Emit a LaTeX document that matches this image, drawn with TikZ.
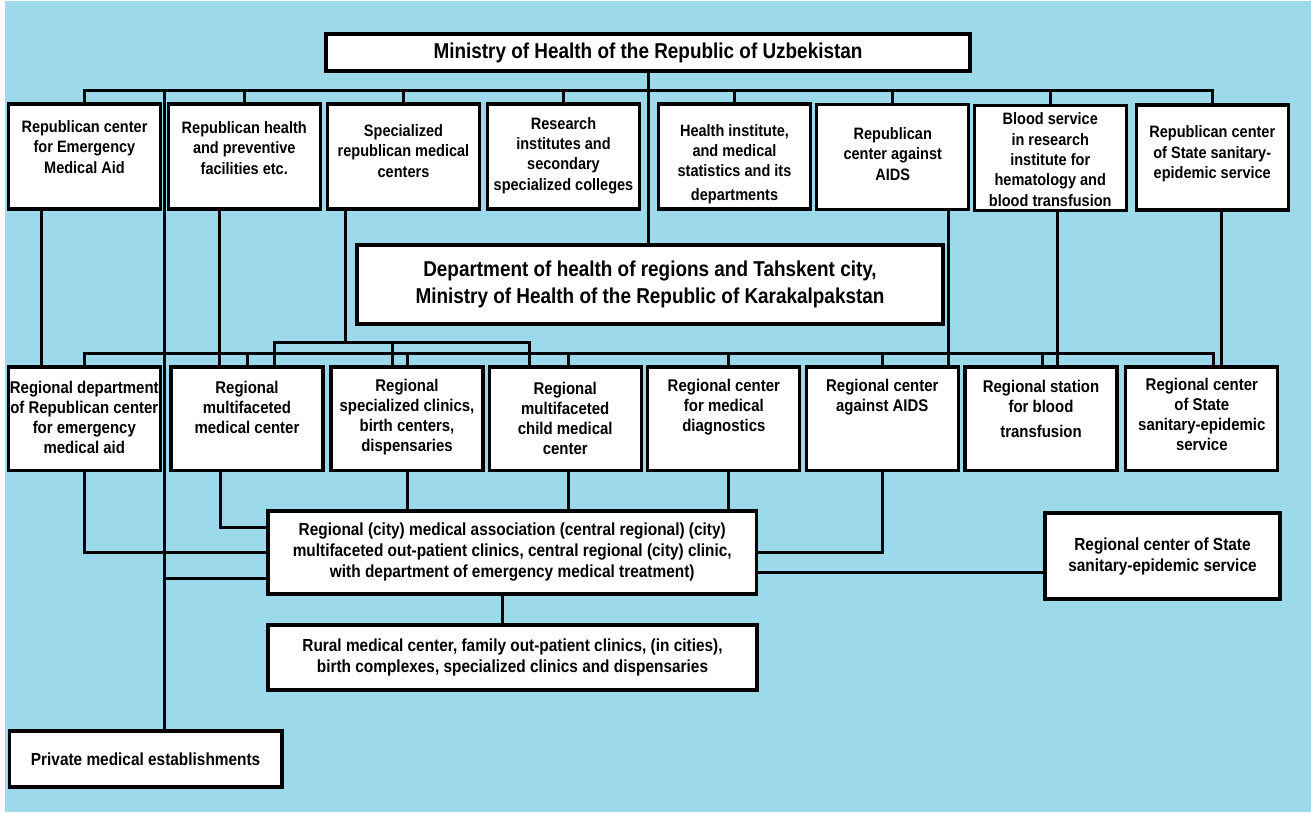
\documentclass[tikz,border=0pt]{standalone}
\usepackage{fontspec}
\setmainfont{Liberation Sans}[FakeStretch=0.88]
\usetikzlibrary{calc}
\pgfdeclarelayer{lines}
\pgfsetlayers{lines,main}
\definecolor{bgblue}{RGB}{156,217,234}
\begin{document}
\begin{tikzpicture}[x=1pt,y=-1pt,
  frame/.style={draw=black,line width=3.2pt,fill=white,inner sep=0pt,align=center,
    font=\bfseries\fontsize{17.5}{21}\selectfont},
  rowone/.style={frame,minimum width=152pt,minimum height=105pt},
  rowtwo/.style={frame,minimum width=152pt,minimum height=103.5pt},
  boxtext/.style={align=center,inner sep=0pt,font=\bfseries\fontsize{16.5}{20.3}\selectfont},
  boxtexttwo/.style={align=center,inner sep=0pt,font=\bfseries\fontsize{17}{20}\selectfont},
  link/.style={draw=black,line width=3pt}
]
\useasboundingbox (0,0) rectangle (1311,812);

% top
\node[frame,minimum width=644pt,minimum height=37pt,font=\bfseries\fontsize{21.5}{26}\selectfont] (m) at (648,52.5) {Ministry of Health of the Republic of Uzbekistan};

% row 1 boxes
\node[rowone] (r1) at (84.5,156.5) {};
\node[rowone] (r2) at (244.25,156.5) {};
\node[rowone] (r3) at (403.5,156.5) {};
\node[rowone] (r4) at (563.5,156.5) {};
\node[rowone] (r5) at (734.5,156.5) {};
\node[rowone] (r6) at (892.75,157) {};
\node[rowone] (r7) at (1050.25,158) {};
\node[rowone] (r8) at (1212.25,157.5) {};

\node[boxtext] (t1) at (84.5,147) {Republican center\\for Emergency\\Medical Aid};
\node[boxtext] (t2) at (244.25,148) {Republican health\\and preventive\\facilities etc.};
\node[boxtext] (t3) at (403.5,151) {Specialized\\republican medical\\centers};
\node[boxtext] (t4) at (563.5,155.5) {Research\\institutes and\\secondary\\specialized colleges};
\node[boxtext] (t5) at (734.5,164) {Health institute,\\and medical\\statistics and its\\[3pt]departments};
\node[boxtext] (t6) at (892.75,154) {Republican\\center against\\AIDS};
\node[boxtext] (t7) at (1050.25,159.5) {Blood service\\in research\\institute for\\hematology and\\blood transfusion};
\node[boxtext] (t8) at (1212.25,154) {Republican center\\of State sanitary-\\epidemic service};

% department
\node[frame,minimum width=586pt,minimum height=79pt,font=\bfseries\fontsize{21.5}{26.7}\selectfont] (d) at (650,284.5) {Department of health of regions and Tahskent city,\\Ministry of Health of the Republic of Karakalpakstan};

% row 2 boxes
\node[rowtwo] (q1) at (84.3,418.75) {};
\node[rowtwo] (q2) at (247,418.75) {};
\node[rowtwo] (q3) at (407,418.75) {};
\node[rowtwo] (q4) at (565.25,418.75) {};
\node[rowtwo] (q5) at (723.85,418.75) {};
\node[rowtwo] (q6) at (882.3,418.75) {};
\node[rowtwo] (q7) at (1041,418.75) {};
\node[rowtwo] (q8) at (1201.8,418.75) {};

\node[boxtexttwo] (u1) at (84.3,417) {Regional department\\of Republican center\\for emergency\\medical aid};
\node[boxtexttwo] (u2) at (247,407) {Regional\\multifaceted\\medical center};
\node[boxtexttwo] (u3) at (407,417) {Regional\\specialized clinics,\\birth centers,\\dispensaries};
\node[boxtexttwo] (u4) at (565.25,418) {Regional\\multifaceted\\child medical\\center};
\node[boxtexttwo] (u5) at (723.85,407) {Regional center\\for medical\\diagnostics};
\node[boxtexttwo] (u6) at (882.3,397) {Regional center\\against AIDS};
\node[boxtexttwo] (u7) at (1041,409) {Regional station\\for blood\\[5pt]transfusion};
\node[boxtexttwo] (u8) at (1201.8,414.5) {Regional center\\of State\\sanitary-epidemic\\service};

% bottom boxes
\node[frame,minimum width=488.5pt,minimum height=83pt] (a) at (512.25,552.5) {Regional (city) medical association (central regional) (city)\\multifaceted out-patient clinics, central regional (city) clinic,\\with department of emergency medical treatment)};
\node[frame,minimum width=235pt,minimum height=86pt] (s) at (1162.5,556) {Regional center of State\\sanitary-epidemic service};
\node[frame,minimum width=489pt,minimum height=65pt] (u) at (512.5,657.5) {Rural medical center, family out-patient clinics, (in cities),\\birth complexes, specialized clinics and dispensaries};
\node[frame,minimum width=272.7pt,minimum height=56pt] (p) at (145.6,759) {Private medical establishments};

\begin{pgfonlayer}{lines}
\fill[white] (0,0) rectangle (1311,812);
\fill[bgblue] (5,1) rectangle (1311,812);
\coordinate (tb) at (0,90);
\coordinate (mb) at (0,353);
\coordinate (sb) at (0,342);
\coordinate (trunk) at (164,90);
% top bus
\draw[link] (r1.north) |- (r8.north |- tb) -- (r8.north);
\foreach \n in {r2,r3,r4,r5,r6,r7} \draw[link] (\n.north) -- (\n.north |- tb);
\draw[link] (m.south) -- (m.south |- d.north);
\draw[link] (trunk) -- (trunk |- p.north);
% row 1 to row 2
\draw[link] ([xshift=-43.5pt]r1.south) -- ([xshift=-43.5pt]r1.south |- q1.north);
\draw[link] ([xshift=-25.25pt]r2.south) -- ([xshift=-25.25pt]r2.south |- q2.north);
\draw[link] ([xshift=56pt]r6.south) -- ([xshift=56pt]r6.south |- q6.north);
\draw[link] ([xshift=6.75pt]r7.south) -- ([xshift=6.75pt]r7.south |- q7.north);
\draw[link] ([xshift=8.75pt]r8.south) -- ([xshift=8.75pt]r8.south |- q8.north);
% sub bus from specialized centers
\draw[link] ([xshift=-58.5pt]r3.south) -- ([xshift=-58.5pt]r3.south |- sb);
\draw[link] ([xshift=27pt]q2.north) |- ([xshift=-36pt]q4.north |- sb) -- ([xshift=-36pt]q4.north);
\draw[link] ([xshift=-15pt]q3.north) -- ([xshift=-15pt]q3.north |- sb);
% main regional bus
\draw[link] (q1.north) |- ([xshift=12pt]q8.north |- mb) -- ([xshift=12pt]q8.north);
\foreach \n/\s in {q2/0,q3/0,q4/3,q5/5,q6/0,q7/1} \draw[link] ([xshift=\s pt]\n.north) -- ([xshift=\s pt]\n.north |- mb);
% to association
\draw[link] (q1.south) |- (a.west);
\draw[link] ([xshift=-27pt]q2.south) |- ([yshift=25.5pt]a.west);
\draw[link] ([yshift=-25.5pt]a.west) -- ([yshift=-25.5pt]a.west -| trunk);
\draw[link] (q3.south) -- (q3.south |- a.north);
\draw[link] ([xshift=3pt]q4.south) -- ([xshift=3pt]q4.south |- a.north);
\draw[link] ([xshift=5pt]q5.south) -- ([xshift=5pt]q5.south |- a.north);
\draw[link] (q6.south) |- (a.east);
\draw[link] ([yshift=-19.5pt]a.east) -- ([yshift=-19.5pt]a.east -| s.west);
\draw[link] ([xshift=-10pt]a.south) -- ([xshift=-10pt]a.south |- u.north);
\end{pgfonlayer}
\end{tikzpicture}
\end{document}
